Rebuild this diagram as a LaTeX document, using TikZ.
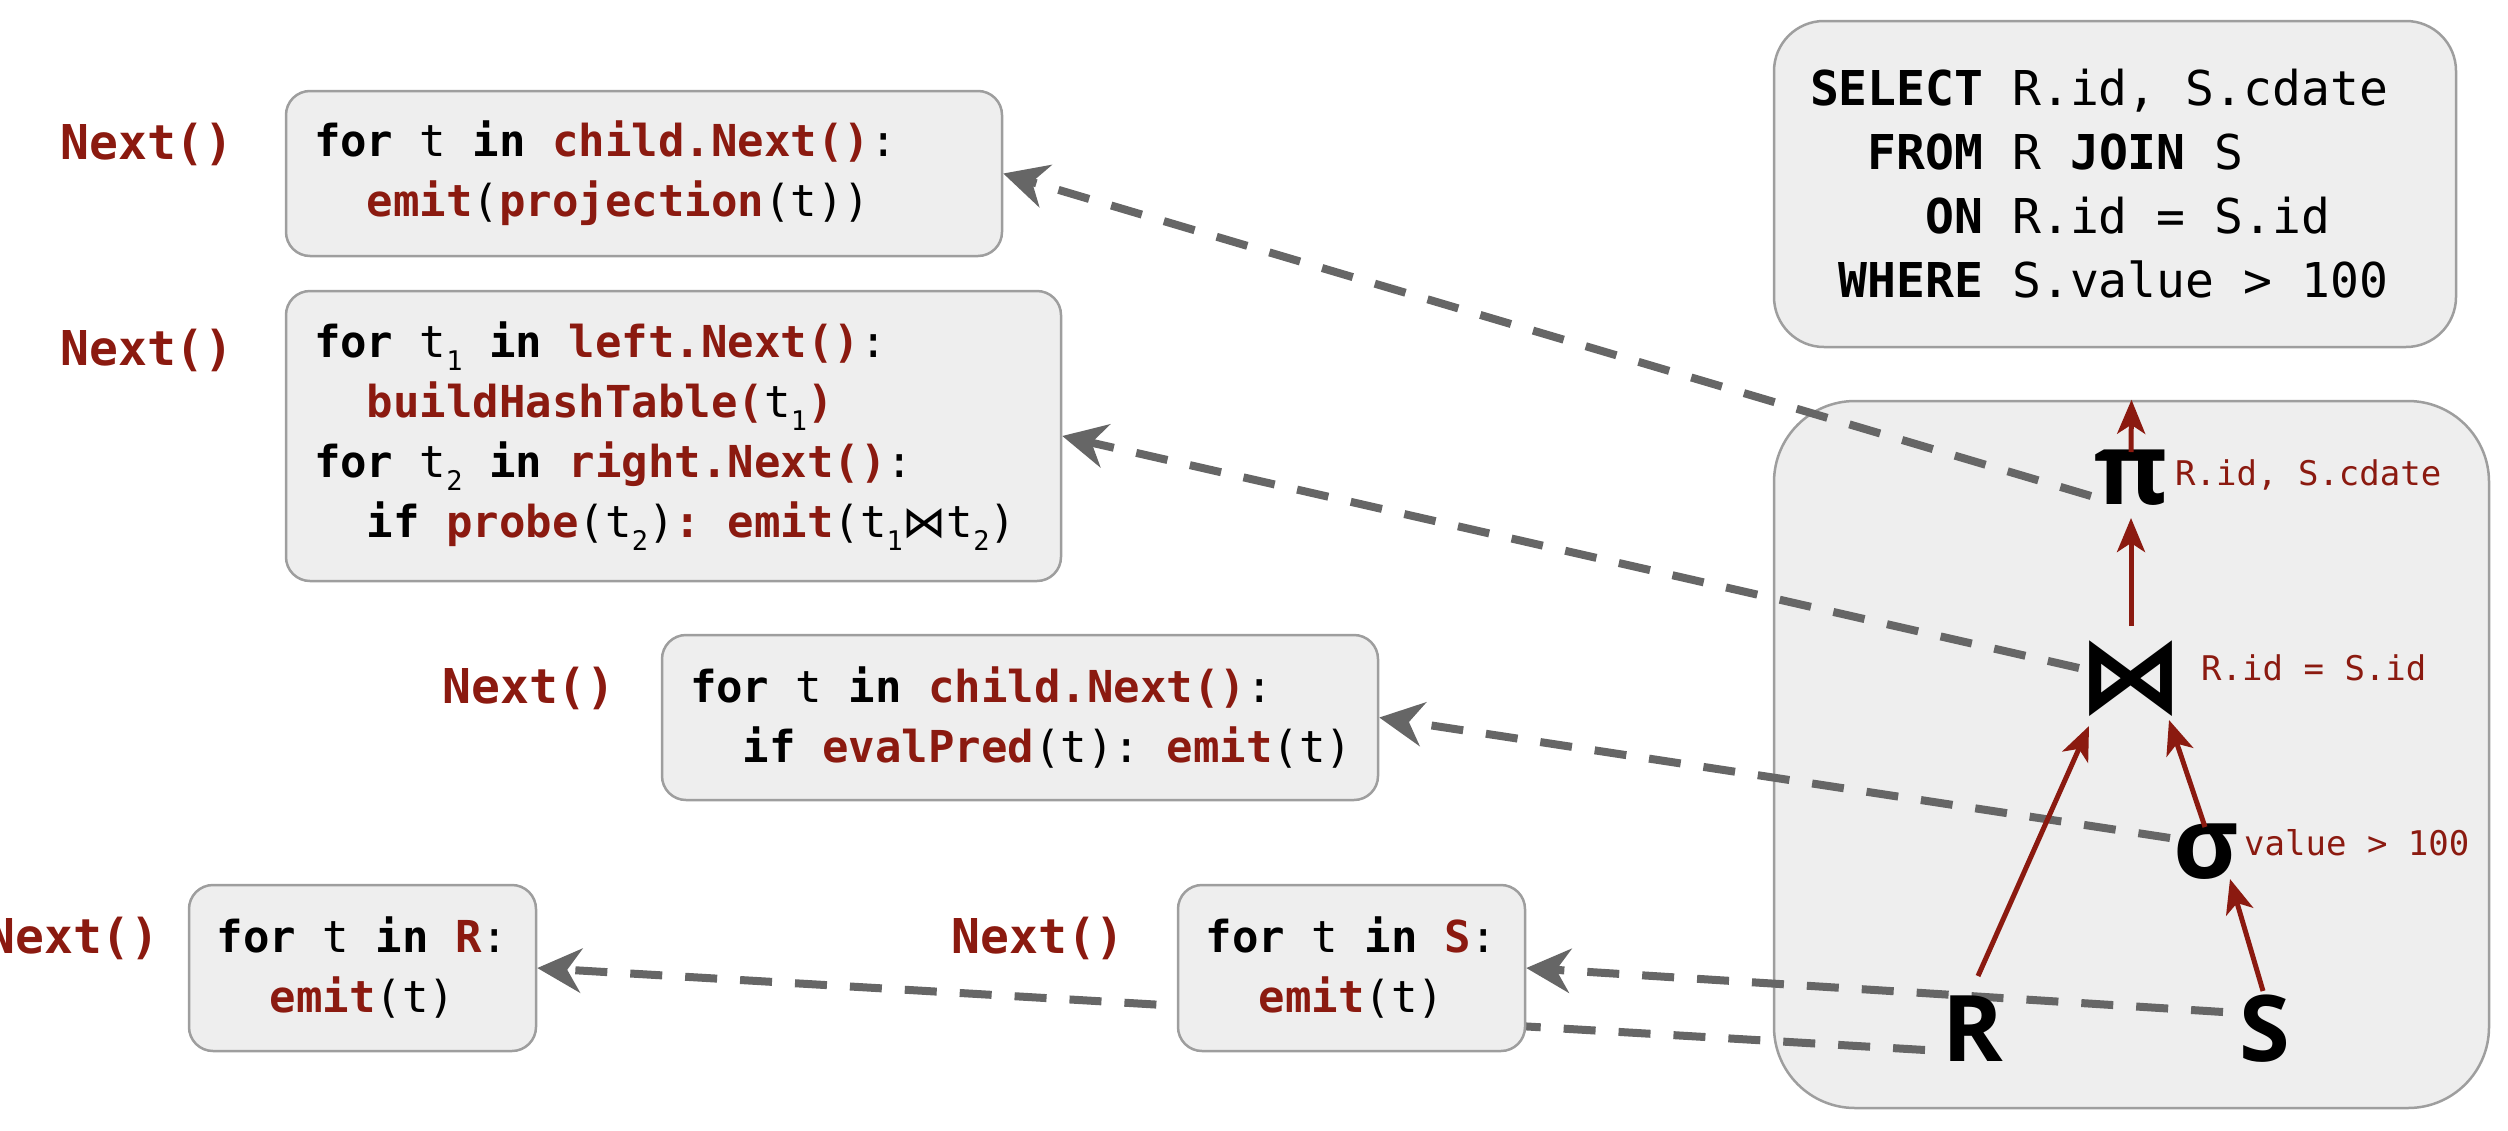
\documentclass[tikz,border=0pt]{standalone}
\usepackage{fontspec}
\setmainfont{DejaVu Sans Mono}
\newfontfamily\codefont{DejaVu Sans Mono}
\newfontfamily\symfont{Open Sans}
\newfontfamily\opfont{DejaVu Sans}
\usetikzlibrary{arrows.meta,calc}
\definecolor{dred}{RGB}{139,26,16}
\definecolor{boxfill}{RGB}{238,238,238}
\definecolor{boxline}{RGB}{158,158,158}
\definecolor{dashgray}{RGB}{102,102,102}
\newcommand{\kw}[1]{\textbf{#1}}
\newcommand{\fn}[1]{\textcolor{dred}{\textbf{#1}}}
\newcommand{\sbs}[1]{\raisebox{-0.28em}{\fontsize{27}{27}\selectfont #1}}
\newcommand{\bowt}{{\opfont ⋈}}
\newcommand{\monosp}{\spaceskip=0.602em\relax\xspaceskip=0.602em\relax}
\pgfdeclarelayer{back}
\pgfdeclarelayer{mid}
\pgfsetlayers{back,mid,main}
\begin{document}
\begin{tikzpicture}[x=1pt,y=-1pt,
  codebox/.style={draw=boxline, line width=2.5pt, fill=boxfill, rounded corners=24pt,
    inner xsep=28pt, inner ysep=0pt, align=left,
    font=\codefont\fontsize{44}{60}\selectfont},
  nextlbl/.style={text=dred, inner sep=0pt, anchor=east,
    font=\codefont\bfseries\fontsize{48}{48}\selectfont},
  opsym/.style={inner sep=0pt, font=\symfont\bfseries\fontsize{100}{100}\selectfont},
  oplbl/.style={text=dred, inner sep=0pt, anchor=west,
    font=\codefont\fontsize{34}{34}\selectfont},
  dflow/.style={draw=dashgray, line width=8pt, dash pattern=on 32pt off 23pt,
    -{Stealth[length=44pt,width=44pt,inset=14pt]}},
  tflow/.style={draw=dred, line width=5pt, -{Stealth[length=34pt,width=28pt,inset=9pt]}}
]
\useasboundingbox (0,0) rectangle (2508,1130);

% plan and query boxes
\begin{pgfonlayer}{back}
\node[draw=boxline, fill=boxfill, line width=2.5pt, rounded corners=81pt,
  minimum width=715pt, minimum height=707pt, inner sep=0pt] (tree) at (2131.5,754.5) {};
\node[codebox, rounded corners=50pt, inner xsep=36pt, text width=610pt,
  minimum height=326pt, font=\codefont\fontsize{48}{64}\selectfont] (sql) at (2115,184)
  {\monosp\mbox{\kw{SELECT} R.id, S.cdate}\\
   \mbox{\hphantom{SE}\kw{FROM} R \kw{JOIN} S}\\
   \mbox{\hphantom{SELE}\kw{ON} R.id = S.id}\\
   \mbox{\hphantom{S}\kw{WHERE} S.value > 100}};
\end{pgfonlayer}

% code boxes
\node[codebox, text width=660pt, minimum height=165pt] (box1) at (644,173.5)
  {\monosp\mbox{\kw{for} t \kw{in} \fn{child.Next()}:}\\
   \mbox{\hphantom{xx}\fn{emit}(\fn{projection}(t))}};
\node[codebox, text width=719pt, minimum height=290pt] (box2) at (673.5,436)
  {\monosp\mbox{\kw{for} t\sbs{1} \kw{in} \fn{left.Next()}:}\\
   \mbox{\hphantom{xx}\fn{buildHashTable(}t\sbs{1}\fn{)}}\\
   \mbox{\kw{for} t\sbs{2} \kw{in} \fn{right.Next()}:}\\
   \mbox{\hphantom{xx}\kw{if} \fn{probe}(t\sbs{2})\fn{: emit}(t\sbs{1}\bowt t\sbs{2})}};
\node[codebox, text width=660pt, minimum height=165pt] (box3) at (1020,717.5)
  {\monosp\mbox{\kw{for} t \kw{in} \fn{child.Next()}:}\\
   \mbox{\hphantom{xx}\kw{if} \fn{evalPred}(t): \fn{emit}(t)}};
\node[codebox, align=center, inner xsep=18pt, text width=311pt, minimum height=166pt] (box4) at (362.5,968)
  {\monosp\mbox{\kw{for} t \kw{in} \fn{R}:}\\ \mbox{\fn{emit}(t)}};
\node[codebox, align=center, inner xsep=18pt, text width=311pt, minimum height=166pt] (box5) at (1351.5,968)
  {\monosp\mbox{\kw{for} t \kw{in} \fn{S}:}\\ \mbox{\fn{emit}(t)}};

% Next() labels
\node[nextlbl] (n1) at (234,144) {Next()};
\node[nextlbl] (n2) at (234,350) {Next()};
\node[nextlbl] (n3) at (616,688) {Next()};
\node[nextlbl] (n4) at (160,938) {Next()};
\node[nextlbl] (n5) at (1125,938) {Next()};

% plan operators
\node[opsym] (pi) at (2131,478) {π};
\node[inner sep=0pt, font=\opfont\bfseries\fontsize{105}{105}\selectfont] (join) at (2131,679) {⋈};
\node[opsym] (sigma) at (2206,852) {σ};
\node[opsym, font=\symfont\bfseries\fontsize{92}{92}\selectfont] (R) at (1973,1029) {R};
\node[opsym, font=\symfont\bfseries\fontsize{92}{92}\selectfont] (S) at (2265,1029) {S};

\node[oplbl] (pil) at (2175,475) {R.id, S.cdate};
\node[oplbl] (joinl) at (2201,668) {R.id = S.id};
\node[oplbl] (sigmal) at (2244,843) {value > 100};

% plan edges
\draw[tflow] ($(pi)+(0,-26)$) -- (tree.north);
\draw[tflow] ($(join)+(0,-53)$) -- ($(pi)+(0,40)$);
\draw[tflow] ($(R)+(5,-53)$) -- ($(join)+(-42,47)$);
\draw[tflow] ($(sigma)+(-1,-25)$) -- ($(join)+(38,41)$);
\draw[tflow] ($(S)+(-2,-38)$) -- ($(sigma)+(24,27)$);

% Next() calls to code
\begin{pgfonlayer}{mid}
\draw[dflow] ($(pi)+(-40,18)$) -- (box1.east);
\draw[dflow] ($(join)+(-52,-11)$) -- (box2.east);
\draw[dflow] ($(sigma)+(-36,-14)$) -- (box3.east);
\draw[dflow] ($(S)+(-42,-17)$) -- (box5.east);
\draw[dflow] ($(R)+(-48,21)$) -- (box4.east);
\end{pgfonlayer}
\end{tikzpicture}
\end{document}
